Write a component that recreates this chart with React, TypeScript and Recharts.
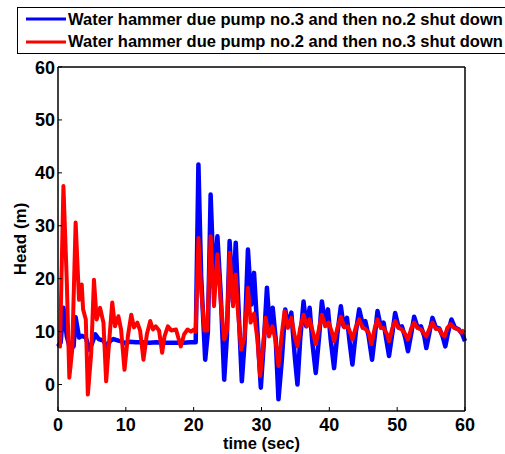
import React from 'react';
import { LineChart, Line, XAxis, YAxis, Legend } from 'recharts';

const blueName = 'Water hammer due pump no.3 and then no.2 shut down';
const redName = 'Water hammer due pump no.2 and then no.3 shut down';
const legendOrder = [blueName, redName];

const blueTime = [0, 0.4, 0.8, 1.3, 1.8, 2.3, 2.6, 3.1, 3.5, 4.1, 4.6, 5.0, 5.5, 6.0, 6.7, 7.2, 7.7, 8.2, 8.9, 9.5, 9.9, 10.5, 11.5, 12.5, 13.5, 14.5, 15.5, 16.5, 17.5, 18.5, 19.5, 20.3, 20.7, 21.1, 21.7, 22.1, 22.5, 23.0, 23.5, 24.0, 24.5, 24.9, 25.3, 25.8, 26.2, 26.6, 27.1, 27.5, 28.0, 28.5, 28.9, 29.4, 29.9, 30.4, 30.8, 31.2, 31.65, 32.1, 32.5, 33.0, 33.5, 33.9, 34.4, 34.9, 35.3, 35.7, 36.2, 36.6, 37.1, 37.5, 38.0, 38.5, 38.9, 39.4, 39.8, 40.2, 40.7, 41.2, 41.7, 42.1, 42.6, 43.0, 43.4, 43.9, 44.4, 44.9, 45.3, 45.8, 46.3, 46.7, 47.1, 47.6, 48.0, 48.4, 48.8, 49.3, 49.7, 50.2, 50.7, 51.2, 51.6, 52.1, 52.5, 53.0, 53.5, 54.0, 54.3, 54.8, 55.2, 55.7, 56.2, 56.7, 57.1, 57.5, 58.0, 58.5, 59.1, 59.6, 60.0];
const blueHead = [7.2, 8, 14.5, 9.1, 6.6, 7.2, 12.7, 8.9, 9.2, 8.9, 6.6, 7.7, 9.5, 8.6, 8.3, 7.0, 8.3, 8.6, 8.3, 8.1, 7.8, 8.1, 8.0, 8.0, 7.9, 8.0, 7.9, 7.9, 7.9, 7.9, 8.0, 8.0, 41.6, 20.5, 4.7, 10, 35.9, 18, 28, 16.8, 0.9, 9.1, 27.1, 15.5, 26.8, 14.8, 0.6, 7.9, 25.5, 15.1, 21.1, 10, -0.6, 9.1, 18.3, 11, 14.5, 8.5, -2.8, 4.7, 14.2, 11, 13.6, 5.4, 0, 8.5, 15.7, 11, 14.5, 7.9, 2.2, 9.1, 15.7, 11.3, 14.2, 8.5, 3.1, 9.8, 14.8, 11, 12.6, 7.9, 3.8, 9.8, 14.2, 11.5, 12, 9.1, 4.7, 9.1, 13.9, 10.8, 11.7, 8.5, 5.4, 9.8, 13.5, 10.8, 11, 8.8, 6.3, 9.8, 12.8, 10.8, 11, 9.1, 6.9, 10.1, 12.6, 10.8, 10.6, 9.1, 7.2, 9.8, 12.3, 10.8, 10.4, 9.5, 8.2];

const redTime = [0, 0.3, 0.8, 1.3, 1.67, 2.1, 2.6, 3.1, 3.5, 3.7, 4.1, 4.4, 4.9, 5.3, 5.7, 6.2, 6.7, 7.1, 7.6, 8.0, 8.4, 8.9, 9.3, 9.8, 10.3, 10.8, 11.2, 11.7, 12.1, 12.6, 13.1, 13.6, 14.0, 14.4, 14.9, 15.35, 15.7, 16.2, 16.7, 17.4, 18.1, 18.6, 19.1, 19.6, 20.05, 20.3, 20.7, 21.1, 21.6, 22.0, 22.5, 23.0, 23.5, 24.0, 24.5, 24.9, 25.3, 25.8, 26.2, 26.5, 27.0, 27.5, 28.0, 28.4, 28.9, 29.4, 29.8, 30.1, 30.6, 31.1, 31.6, 32.05, 32.5, 32.9, 33.4, 33.9, 34.4, 34.9, 35.3, 35.7, 36.2, 36.7, 37.1, 37.6, 38.0, 38.5, 38.9, 39.4, 39.9, 40.4, 40.7, 41.2, 41.7, 42.2, 42.7, 43.15, 43.4, 43.9, 44.4, 44.9, 45.3, 45.8, 46.2, 46.7, 47.1, 47.6, 48.0, 48.5, 48.8, 49.3, 49.7, 50.2, 50.7, 51.2, 51.6, 52.1, 52.5, 53.0, 53.5, 54.0, 54.3, 54.8, 55.2, 55.7, 56.2, 56.6, 57.0, 57.4, 57.9, 58.4, 59.0, 59.5, 59.9];
const redHead = [7.5, 7.2, 37.5, 19.3, 1.3, 6.6, 30.6, 16, 18.9, 14.2, 12.3, -1.9, 6, 19.8, 12.3, 14.5, 11.7, 0.6, 9.1, 15.5, 11, 12.9, 10.4, 2.8, 9.1, 13.2, 10.8, 11.7, 10.2, 4.7, 9.5, 12, 10.4, 11, 10.2, 6.0, 9.1, 11, 10.2, 10.4, 7.2, 9.5, 10.4, 10, 10.4, 10, 27.7, 18, 10.2, 10.2, 28, 14.8, 24.6, 15.5, 8.5, 10.2, 24.9, 14.8, 20.8, 14.2, 6.6, 8.9, 18.3, 11.7, 13.4, 8.5, 1.6, 5.4, 12.6, 9.1, 11, 8.5, 3.5, 8.5, 13.9, 10.7, 12.6, 9.1, 7.2, 10.7, 13.2, 11, 12.3, 9.8, 7.6, 10.7, 13.2, 11, 11.7, 9.8, 8.2, 10.7, 12.8, 10.8, 11, 9.6, 8.5, 10.8, 12.3, 10.7, 10.5, 9.8, 7.6, 10.7, 12.3, 10.7, 10.7, 9.5, 8.2, 10.7, 12, 10.7, 10.4, 9.5, 8.5, 10.7, 11.7, 10.7, 10.4, 9.6, 9.1, 10.7, 11.7, 10.5, 10.5, 9.5, 9.1, 10.7, 11.4, 10.7, 10.4, 9.8, 10.3];

const xTicks = [0, 10, 20, 30, 40, 50, 60];
const yTicks = [0, 10, 20, 30, 40, 50, 60];

const blueData = blueTime.map((t, i) => ({ t, v: blueHead[i] }));
const redData = redTime.map((t, i) => ({ t, v: redHead[i] }));

const FONT = "'Liberation Sans', Arial, sans-serif";
const TL = 4;

const BottomTick = (p: any) => (
  <g>
    <line x1={p.x} x2={p.x} y1={p.y} y2={p.y - TL} stroke="#000" strokeWidth={1} />
    <text x={p.x} y={p.y + 20} textAnchor="middle" fontFamily={FONT} fontWeight="bold" fontSize={18} fill="#000">
      {p.payload.value}
    </text>
  </g>
);
const TopTick = (p: any) => (
  <line x1={p.x} x2={p.x} y1={p.y} y2={p.y + TL} stroke="#000" strokeWidth={1} />
);
const LeftTick = (p: any) => (
  <g>
    <line x1={p.x} x2={p.x + TL} y1={p.y} y2={p.y} stroke="#000" strokeWidth={1} />
    <text x={p.x - 3} y={p.y + 6.5} textAnchor="end" fontFamily={FONT} fontWeight="bold" fontSize={18} fill="#000">
      {p.payload.value}
    </text>
  </g>
);
const RightTick = (p: any) => (
  <line x1={p.x} x2={p.x - TL} y1={p.y} y2={p.y} stroke="#000" strokeWidth={1} />
);

const LegendBox = (props: any) => {
  const payload = [...(props.payload || [])].sort(
    (a: any, b: any) => legendOrder.indexOf(a.value) - legendOrder.indexOf(b.value)
  );
  return (
    <div
      style={{
        border: '1.5px solid #000',
        background: '#fff',
        width: 500,
        height: 47,
        boxSizing: 'border-box',
        paddingLeft: 7,
        paddingTop: 0,
        fontFamily: FONT,
        fontWeight: 'bold',
        fontSize: 16.5,
        color: '#000',
      }}
    >
      {payload.map((e: any) => (
        <div key={e.value} style={{ display: 'flex', alignItems: 'center', height: 22.5, whiteSpace: 'nowrap' }}>
          <svg width={42} height={10} style={{ flex: 'none' }}>
            <line x1={1} x2={41} y1={5} y2={5} stroke={e.color} strokeWidth={3} />
          </svg>
          <span style={{ marginLeft: 1 }}>{e.value}</span>
        </div>
      ))}
    </div>
  );
};

export default function App() {
  return (
    <div style={{ position: 'absolute', left: 0, top: 0, width: 505, height: 454, overflow: 'hidden', background: '#fff' }}>
      <LineChart width={505} height={454} margin={{ top: 66, right: 39, bottom: 42, left: 0 }}>
        <XAxis
          xAxisId="b"
          type="number"
          dataKey="t"
          domain={[0, 60]}
          ticks={xTicks}
          height={1}
          tickSize={0}
          tickMargin={0}
          tickLine={false}
          tick={BottomTick}
          axisLine={{ stroke: '#000', strokeWidth: 1.5 }}
          allowDuplicatedCategory={false}
          label={{
            content: (lp: any) => {
              const vb = lp.viewBox || {};
              return (
                <text x={vb.x + vb.width / 2} y={vb.y + 38} textAnchor="middle" fontFamily={FONT} fontWeight="bold" fontSize={16.5} fill="#000">
                  time (sec)
                </text>
              );
            },
          }}
        />
        <XAxis
          xAxisId="t"
          orientation="top"
          type="number"
          dataKey="t"
          domain={[0, 60]}
          ticks={xTicks}
          height={1}
          tickSize={0}
          tickMargin={0}
          tickLine={false}
          tick={TopTick}
          axisLine={{ stroke: '#000', strokeWidth: 1.5 }}
        />
        <YAxis
          yAxisId="l"
          type="number"
          domain={[-5, 60]}
          ticks={yTicks}
          width={58}
          tickSize={0}
          tickMargin={0}
          tickLine={false}
          tick={LeftTick}
          axisLine={{ stroke: '#000', strokeWidth: 1.5 }}
          label={{
            content: (lp: any) => {
              const vb = lp.viewBox || {};
              const cy = vb.y + vb.height / 2;
              return (
                <text x={20} y={cy} transform={`rotate(-90, 20, ${cy})`} textAnchor="middle" dominantBaseline="central" fontFamily={FONT} fontWeight="bold" fontSize={17} fill="#000">
                  Head (m)
                </text>
              );
            },
          }}
        />
        <YAxis
          yAxisId="r"
          orientation="right"
          type="number"
          domain={[-5, 60]}
          ticks={yTicks}
          width={1}
          tickSize={0}
          tickMargin={0}
          tickLine={false}
          tick={RightTick}
          axisLine={{ stroke: '#000', strokeWidth: 1.5 }}
        />
        <Legend
          layout="vertical"
          align="center"
          verticalAlign="middle"
          content={LegendBox}
          wrapperStyle={{ position: 'absolute', left: 17, top: 7, width: 500, height: 47 }}
        />
        <Line
          xAxisId="b"
          yAxisId="l"
          data={blueData}
          dataKey="v"
          name={blueName}
          type="linear"
          stroke="#0000ff"
          strokeWidth={4.5}
          strokeLinejoin="round"
          dot={false}
          activeDot={false}
          isAnimationActive={false}
        />
        <Line
          xAxisId="b"
          yAxisId="l"
          data={redData}
          dataKey="v"
          name={redName}
          type="linear"
          stroke="#ff0000"
          strokeWidth={4}
          strokeLinejoin="round"
          dot={false}
          activeDot={false}
          isAnimationActive={false}
        />
      </LineChart>
    </div>
  );
}
